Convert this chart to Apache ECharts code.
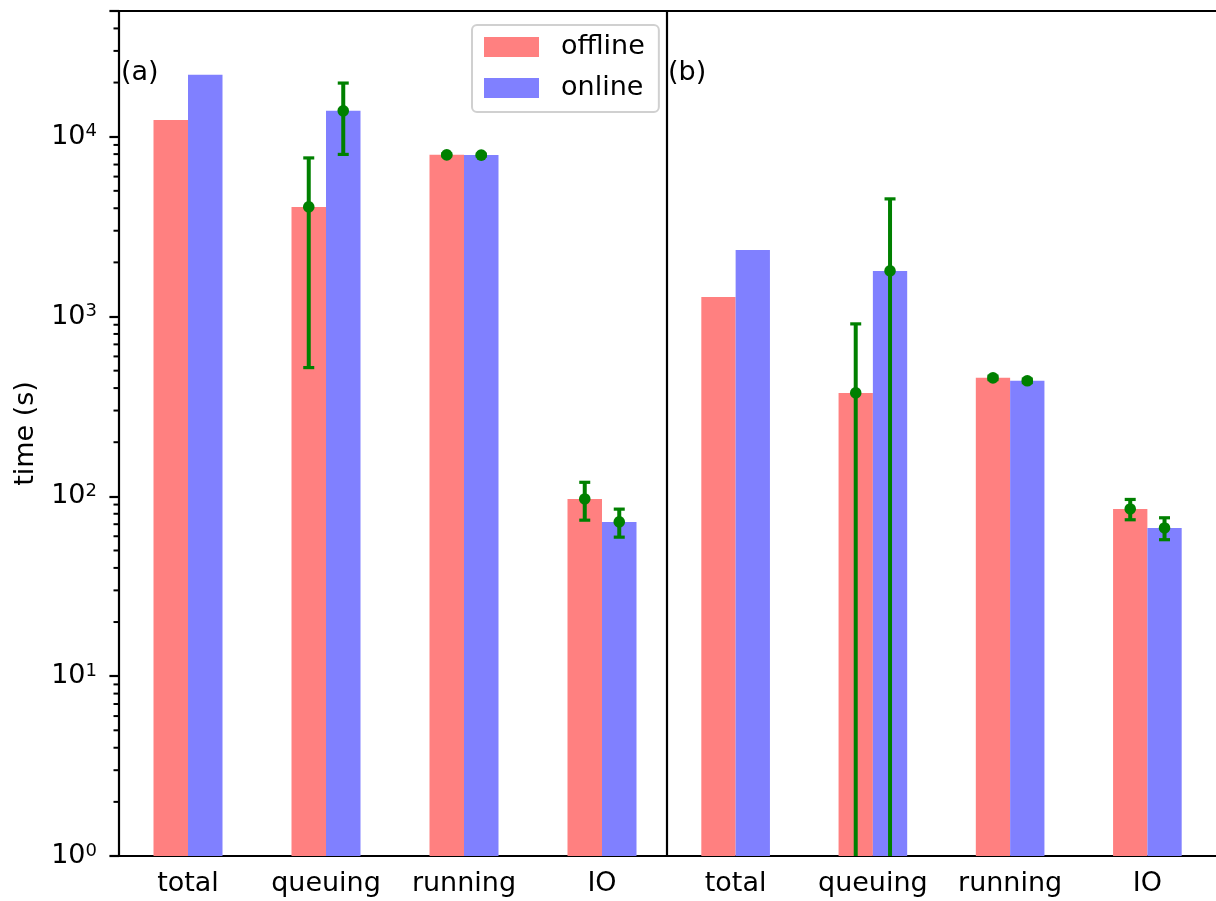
<!DOCTYPE html>
<html>
<head>
<meta charset="utf-8">
<script src="https://cdn.jsdelivr.net/npm/echarts@6/dist/echarts.min.js"></script>
<style>
html,body{margin:0;padding:0;background:#fff;}
#chart{width:1216px;height:901px;}
</style>
</head>
<body>
<div id="chart"></div>
<script>
// ---- data ----
var categories = ['total', 'queuing', 'running', 'IO'];
var seriesNames = ['offline', 'online'];
// panel (a)
var offlineA = [12400, 4070, 7925, 96.7];
var onlineA = [22070, 13920, 7900, 72.1];
var offlineErrA = [null, 3550, 100, 23];
var onlineErrA = [null, 5950, 100, 12.8];
// panel (b)
var offlineB = [1285, 376, 456, 85.1];
var onlineB = [2346, 1794, 439, 66.7];
var offlineErrB = [null, 534, 10, 11];
var onlineErrB = [null, 2716, 10, 9.3];
var panelLabels = ['(a)', '(b)'];
var yMin = 1, yMax = 50000;
var yAxisName = 'time (s)';

var FONT = 'DejaVu Sans';
var FS = 27;
var RED = '#ff8080', BLUE = '#8080ff', GREEN = '#008000';

function errData(vals, errs, side) {
  var out = [];
  for (var i = 0; i < vals.length; i++) {
    if (errs[i] != null) out.push([i, vals[i], errs[i], side]);
  }
  return out;
}

function renderErr(params, api) {
  var idx = api.value(0), v = api.value(1), e = api.value(2), side = api.value(3);
  var p = api.coord([idx, v]);
  var band = api.coord([1, v])[0] - api.coord([0, v])[0];
  var x = p[0] + side * band * 0.125;
  var yHi = api.coord([idx, v + e])[1];
  var lo = v - e;
  var cs = params.coordSys;
  var yLo, capLo = true;
  if (lo > 0) { yLo = api.coord([idx, lo])[1]; }
  else { yLo = cs.y + cs.height; capLo = false; }
  var capW = 5.5;
  var ch = [
    { type: 'line', shape: { x1: x, y1: yHi, x2: x, y2: yLo }, style: { stroke: GREEN, lineWidth: 4 } },
    { type: 'line', shape: { x1: x - capW, y1: yHi, x2: x + capW, y2: yHi }, style: { stroke: GREEN, lineWidth: 3.2 } }
  ];
  if (capLo) ch.push({ type: 'line', shape: { x1: x - capW, y1: yLo, x2: x + capW, y2: yLo }, style: { stroke: GREEN, lineWidth: 3.2 } });
  ch.push({ type: 'circle', shape: { cx: x, cy: p[1], r: 5.8 }, style: { fill: GREEN } });
  return { type: 'group', children: ch };
}

// minor ticks for log axis (2..9 x 10^k)
var minorVals = [];
for (var k = 0; k < 5; k++) for (var m = 2; m <= 9; m++) { var mv = m * Math.pow(10, k); if (mv <= yMax) minorVals.push([0, mv]); }

function renderMinor(params, api) {
  var cs = params.coordSys;
  var y = api.coord([0, api.value(1)])[1];
  return { type: 'line', shape: { x1: cs.x - 5.5, y1: y, x2: cs.x, y2: y }, style: { stroke: '#000', lineWidth: 2 } };
}

var chart = echarts.init(document.getElementById('chart'), null, { renderer: 'canvas' });

var gridLeft = [119, 667], gridW = 552, gridTop = 11, gridH = 845;

function xAxisBottom(gi) {
  return {
    type: 'category', gridIndex: gi, data: categories, position: 'bottom',
    axisLine: { lineStyle: { color: '#000', width: 2.2 } },
    axisTick: { alignWithLabel: true, length: 9.6, lineStyle: { color: '#000', width: 2.2 } },
    axisLabel: { color: '#000', fontFamily: FONT, fontSize: FS, margin: 14, interval: 0, hideOverlap: false },
    splitLine: { show: false }
  };
}
function xAxisTop(gi) {
  return {
    type: 'category', gridIndex: gi, data: categories, position: 'top',
    axisLine: { lineStyle: { color: '#000', width: 2.2 } },
    axisTick: { show: false }, axisLabel: { show: false }, splitLine: { show: false }
  };
}

var option = {
  backgroundColor: '#fff',
  animation: false,
  textStyle: { fontFamily: FONT },
  title: [
    { text: panelLabels[0], left: 121, top: 59, textStyle: { fontFamily: FONT, fontSize: FS, fontWeight: 'normal', color: '#000' }, padding: 0 },
    { text: panelLabels[1], left: 668, top: 59, textStyle: { fontFamily: FONT, fontSize: FS, fontWeight: 'normal', color: '#000' }, padding: 0 }
  ],
  legend: {
    data: seriesNames,
    orient: 'vertical',
    left: 472, top: 25,
    padding: [8, 14, 10, 12],
    itemWidth: 55, itemHeight: 20, itemGap: 13,
    icon: 'rect',
    backgroundColor: '#fff',
    borderColor: '#d0d0d0', borderWidth: 2, borderRadius: 5,
    textStyle: { fontFamily: FONT, fontSize: FS, color: '#000', lineHeight: 28, padding: [0, 0, 0, 17] }
  },
  grid: [
    { left: gridLeft[0], top: gridTop, width: gridW, height: gridH, containLabel: false },
    { left: gridLeft[1], top: gridTop, width: gridW, height: gridH, containLabel: false }
  ],
  xAxis: [xAxisBottom(0), xAxisBottom(1), xAxisTop(0), xAxisTop(1)],
  yAxis: [
    {
      type: 'log', logBase: 10, gridIndex: 0, min: yMin, max: yMax,
      name: yAxisName, nameLocation: 'middle', nameGap: 80,
      nameTextStyle: { fontFamily: FONT, fontSize: FS, color: '#000' },
      axisLine: { show: true, lineStyle: { color: '#000', width: 2.2 } },
      axisTick: { show: true, length: 9.6, lineStyle: { color: '#000', width: 2.2 } },
      splitLine: { show: false },
      axisLabel: {
        color: '#000', margin: 22,
        formatter: function (v) {
          var l = Math.log10(v), r = Math.round(l);
          if (Math.abs(l - r) > 1e-6 || v > 20000) return '';
          return '{b|10}{s|' + r + '}';
        },
        rich: {
          b: { fontFamily: FONT, fontSize: FS, color: '#000', lineHeight: 28 },
          s: { fontFamily: FONT, fontSize: 18, color: '#000', verticalAlign: 'top', lineHeight: 18 }
        }
      }
    },
    {
      type: 'log', logBase: 10, gridIndex: 1, min: yMin, max: yMax,
      axisLine: { show: true, lineStyle: { color: '#000', width: 2.2 } },
      axisTick: { show: false }, axisLabel: { show: false }, splitLine: { show: false }
    }
  ],
  series: [
    { name: 'offline', type: 'bar', xAxisIndex: 0, yAxisIndex: 0, data: offlineA, barWidth: '25%', barGap: '0%', itemStyle: { color: RED } },
    { name: 'online', type: 'bar', xAxisIndex: 0, yAxisIndex: 0, data: onlineA, barWidth: '25%', barGap: '0%', itemStyle: { color: BLUE } },
    { name: 'offline', type: 'bar', xAxisIndex: 1, yAxisIndex: 1, data: offlineB, barWidth: '25%', barGap: '0%', itemStyle: { color: RED } },
    { name: 'online', type: 'bar', xAxisIndex: 1, yAxisIndex: 1, data: onlineB, barWidth: '25%', barGap: '0%', itemStyle: { color: BLUE } },
    { name: 'errA', type: 'custom', xAxisIndex: 0, yAxisIndex: 0, z: 5, renderItem: renderErr,
      data: errData(offlineA, offlineErrA, -1).concat(errData(onlineA, onlineErrA, 1)) },
    { name: 'errB', type: 'custom', xAxisIndex: 1, yAxisIndex: 1, z: 5, renderItem: renderErr,
      data: errData(offlineB, offlineErrB, -1).concat(errData(onlineB, onlineErrB, 1)) },
    { name: 'minor', type: 'custom', xAxisIndex: 0, yAxisIndex: 0, z: 5, renderItem: renderMinor, data: minorVals, clip: false }
  ]
};
chart.setOption(option);
</script>
</body>
</html>
